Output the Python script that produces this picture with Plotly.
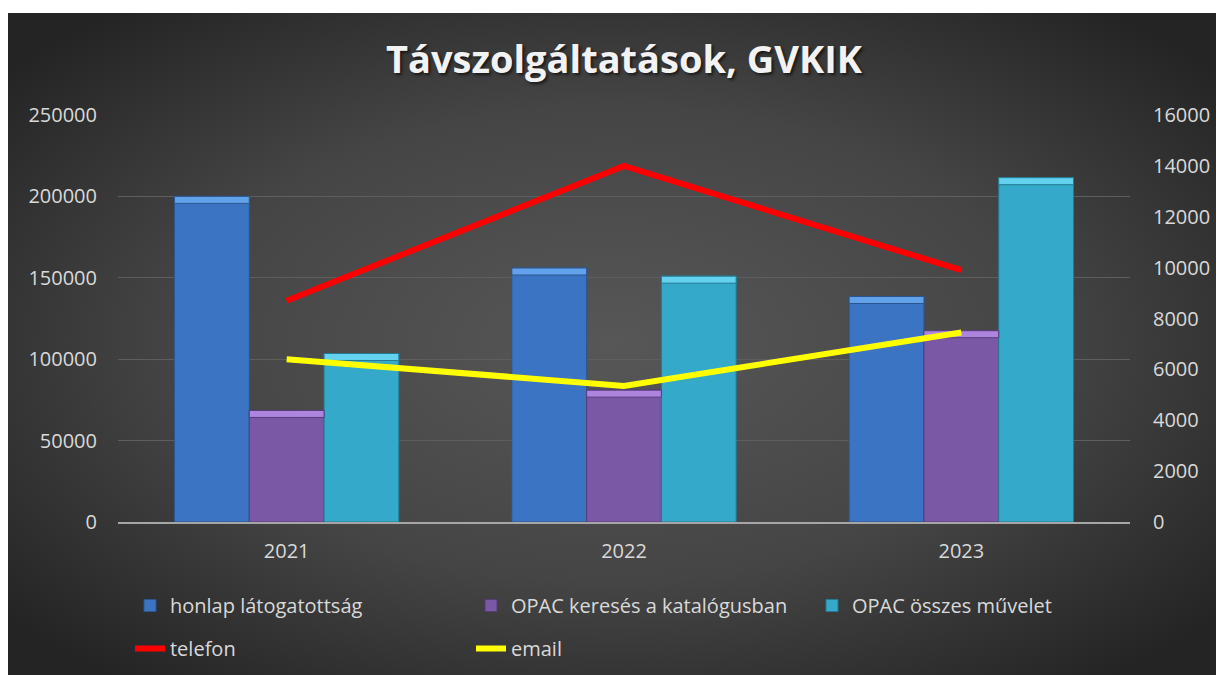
import base64
import plotly.graph_objects as go

years = ["2021", "2022", "2023"]
honlap = [200000, 156000, 138500]
opac_kereses = [68500, 81000, 117500]
opac_osszes = [103500, 151000, 211500]
telefon = [8700, 14000, 9900]
email = [6400, 5350, 7450]

left_ticks = [0, 50000, 100000, 150000, 200000, 250000]
right_ticks = [0, 2000, 4000, 6000, 8000, 10000, 12000, 14000, 16000]

FONT = "Open Sans"
TXT = "#d9d9d9"

W, H = 1219, 675
ML, MR, MT, MB = 118, 89, 115, 153
pw, ph = W - ML - MR, H - MT - MB
CAP = 7 * 250000 / ph  # bevel highlight height in data units (7 px)

fig = go.Figure()

bar_specs = [
    ("honlap látogatottság", honlap, "#3b74c2", "#2c568f", "#62a2ea", "g1"),
    ("OPAC keresés a katalógusban", opac_kereses, "#7a58a6", "#553d78", "#ad84de", "g2"),
    ("OPAC összes művelet", opac_osszes, "#34a9c9", "#247a92", "#62d2ee", "g3"),
]
for name, vals, col, edge, cap, grp in bar_specs:
    fig.add_trace(go.Bar(
        x=years, y=vals, name=name, legend="legend", offsetgroup=grp,
        marker=dict(color=col, line=dict(color=edge, width=1)),
        yaxis="y",
    ))
for name, vals, col, edge, cap, grp in bar_specs:
    fig.add_trace(go.Bar(
        x=years, y=[CAP] * len(vals), base=[v - CAP for v in vals],
        name=name, showlegend=False, offsetgroup=grp, hoverinfo="skip",
        marker=dict(color=cap, line=dict(color=edge, width=1)),
        yaxis="y",
    ))

fig.add_trace(go.Scatter(
    x=years, y=telefon, name="telefon", mode="lines", yaxis="y2",
    legend="legend2", line=dict(color="#ff0000", width=6),
))
fig.add_trace(go.Scatter(
    x=years, y=email, name="email", mode="lines", yaxis="y2",
    legend="legend2", line=dict(color="#ffff00", width=6),
))

svg = (
    "<svg xmlns='http://www.w3.org/2000/svg' width='1208' height='662' "
    "preserveAspectRatio='none' viewBox='0 0 1208 662'>"
    "<defs><radialGradient id='g' cx='50%' cy='50%' r='65%'>"
    "<stop offset='0' stop-color='#575757'/>"
    "<stop offset='0.55' stop-color='#454545'/>"
    "<stop offset='1' stop-color='#242424'/>"
    "</radialGradient></defs>"
    "<rect width='1208' height='662' fill='url(#g)'/></svg>"
)
src = "data:image/svg+xml;base64," + base64.b64encode(svg.encode()).decode()

BG_L, BG_T, BG_R = 8, 13, 1216

legend_common = dict(
    orientation="h", x=-0.001, xanchor="left", xref="paper",
    yref="paper", yanchor="top", indentation=13,
    entrywidth=283, entrywidthmode="pixels",
    bgcolor="rgba(0,0,0,0)", font=dict(size=20, color=TXT),
    traceorder="normal",
)

fig.update_layout(
    width=W, height=H,
    margin=dict(l=ML, r=MR, t=MT, b=MB, autoexpand=False),
    paper_bgcolor="white",
    plot_bgcolor="rgba(0,0,0,0)",
    barmode="group",
    bargap=0.335,
    bargroupgap=0,
    images=[dict(
        source=src, xref="paper", yref="paper",
        x=(BG_L - ML) / pw, y=(H - MB - BG_T) / ph,
        sizex=(BG_R - BG_L) / pw, sizey=(H - BG_T) / ph,
        xanchor="left", yanchor="top", sizing="stretch", layer="below",
    )],
    title=dict(
        text="<b>Távszolgáltatások, GVKIK</b>",
        x=0.5, xref="paper", xanchor="center",
        y=1 - 60 / H, yref="container", yanchor="middle",
        font=dict(family=FONT, size=38, color="#f2f2f2",
                  shadow="2px 2px 3px rgba(0,0,0,0.6)"),
    ),
    font=dict(family=FONT, size=20, color=TXT),
    xaxis=dict(
        showgrid=False, showline=True, linecolor="#a6a6a6", linewidth=2,
        tickfont=dict(size=20, color=TXT), ticks="", ticklabelstandoff=10,
    ),
    yaxis=dict(
        range=[0, 250000], tickvals=left_ticks, ticktext=[str(v) for v in left_ticks],
        showgrid=True, gridcolor="#5e5e5e", gridwidth=1, zeroline=False,
        showline=False, tickfont=dict(size=20, color=TXT), ticklabelstandoff=20,
    ),
    yaxis2=dict(
        range=[0, 16000], tickvals=right_ticks, ticktext=[str(v) for v in right_ticks],
        overlaying="y", side="right", showgrid=False, zeroline=False,
        showline=False, tickfont=dict(size=20, color=TXT), ticklabelstandoff=22,
    ),
    legend=dict(legend_common, y=(H - MB - 586) / ph),
    legend2=dict(legend_common, y=(H - MB - 629) / ph),
)

fig.write_html(
    "out.html",
    config={"displayModeBar": False},
    post_script="document.body.style.margin='0';document.body.style.overflow='hidden';",
)
